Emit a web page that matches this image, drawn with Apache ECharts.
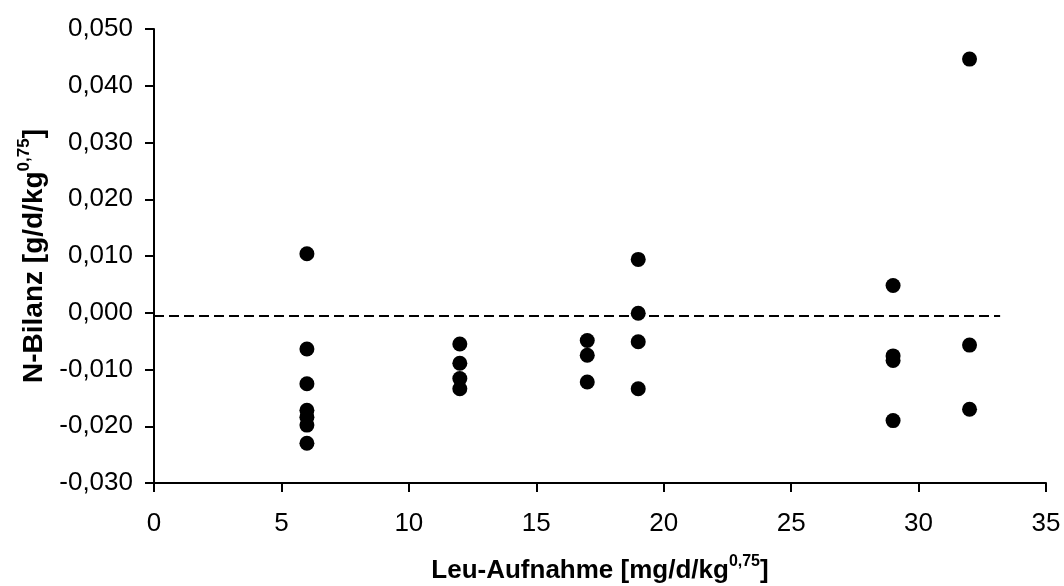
<!DOCTYPE html>
<html>
<head>
<meta charset="utf-8">
<script src="https://cdn.jsdelivr.net/npm/echarts@6/dist/echarts.min.js"></script>
<style>html,body{margin:0;padding:0;background:#fff}#c{width:1064px;height:586px}</style>
</head>
<body>
<div id="c"></div>
<script>
var leuIntake = [6,6,6,6,6,6,6, 12,12,12,12, 17,17,17, 19,19,19,19, 29,29,29,29, 32,32,32];
var nBalance = [0.0104,-0.0064,-0.0125,-0.0172,-0.0184,-0.0198,-0.0230,
                -0.0055,-0.0089,-0.0116,-0.0134,
                -0.0049,-0.0075,-0.0122,
                0.0094,-0.0001,-0.0051,-0.0134,
                0.0048,-0.0076,-0.0084,-0.0190,
                0.0447,-0.0057,-0.0170];
var refLineY = -0.0005;
var refLineX = [0, 33.2];
var xTicks = {min:0, max:35, interval:5};
var yTicks = {min:-0.03, max:0.05, interval:0.01};

var pts = leuIntake.map(function(x,i){return [x, nBalance[i]];});
var chart = echarts.init(document.getElementById('c'), null, {renderer:'canvas'});
var font = 'Liberation Sans, Arial, sans-serif';
function richFor(size, sup){
  return {
    b:{fontSize:size, fontWeight:'bold', fontFamily:font, color:'#000', verticalAlign:'bottom', lineHeight:size+4},
    s:{fontSize:sup, fontWeight:'bold', fontFamily:font, color:'#000', verticalAlign:'top', lineHeight:size+4, padding:[0,0,Math.round(size*0.45),0]}
  };
}
chart.setOption({
  animation:false,
  backgroundColor:'#fff',
  grid:{left:154, right:18, top:29, bottom:103, containLabel:false, outerBoundsMode:'none'},
  xAxis:{
    type:'value', min:xTicks.min, max:xTicks.max, interval:xTicks.interval,
    axisLine:{onZero:false, lineStyle:{color:'#000', width:2}},
    axisTick:{show:true, length:9, lineStyle:{color:'#000', width:2}},
    axisLabel:{color:'#000', fontSize:26, fontFamily:font, margin:28},
    splitLine:{show:false},
    name:'{b|Leu-Aufnahme [mg/d/kg}{s|0,75}{b|]}',
    nameLocation:'middle', nameGap:71,
    nameTextStyle:{rich:richFor(26,16)}
  },
  yAxis:{
    type:'value', min:yTicks.min, max:yTicks.max, interval:yTicks.interval,
    axisLine:{onZero:false, lineStyle:{color:'#000', width:2}},
    axisTick:{show:true, length:9, lineStyle:{color:'#000', width:2}},
    axisLabel:{color:'#000', fontSize:26, fontFamily:font, margin:21,
      formatter:function(v){return v.toFixed(3).replace('.',',');}},
    splitLine:{show:false},
    name:'{b|N-Bilanz [g/d/kg}{s|0,75}{b|]}',
    nameLocation:'middle', nameGap:106, nameRotate:90,
    nameTextStyle:{rich:richFor(28,17)}
  },
  series:[{
    type:'scatter', data:pts, symbol:'circle', symbolSize:15,
    itemStyle:{color:'#000', opacity:1},
    markLine:{
      silent:true, symbol:['none','none'], label:{show:false},
      lineStyle:{color:'#000', type:[10,5], width:2},
      data:[[{coord:[refLineX[0], refLineY]},{coord:[refLineX[1], refLineY]}]]
    }
  }]
});
</script>
</body>
</html>
